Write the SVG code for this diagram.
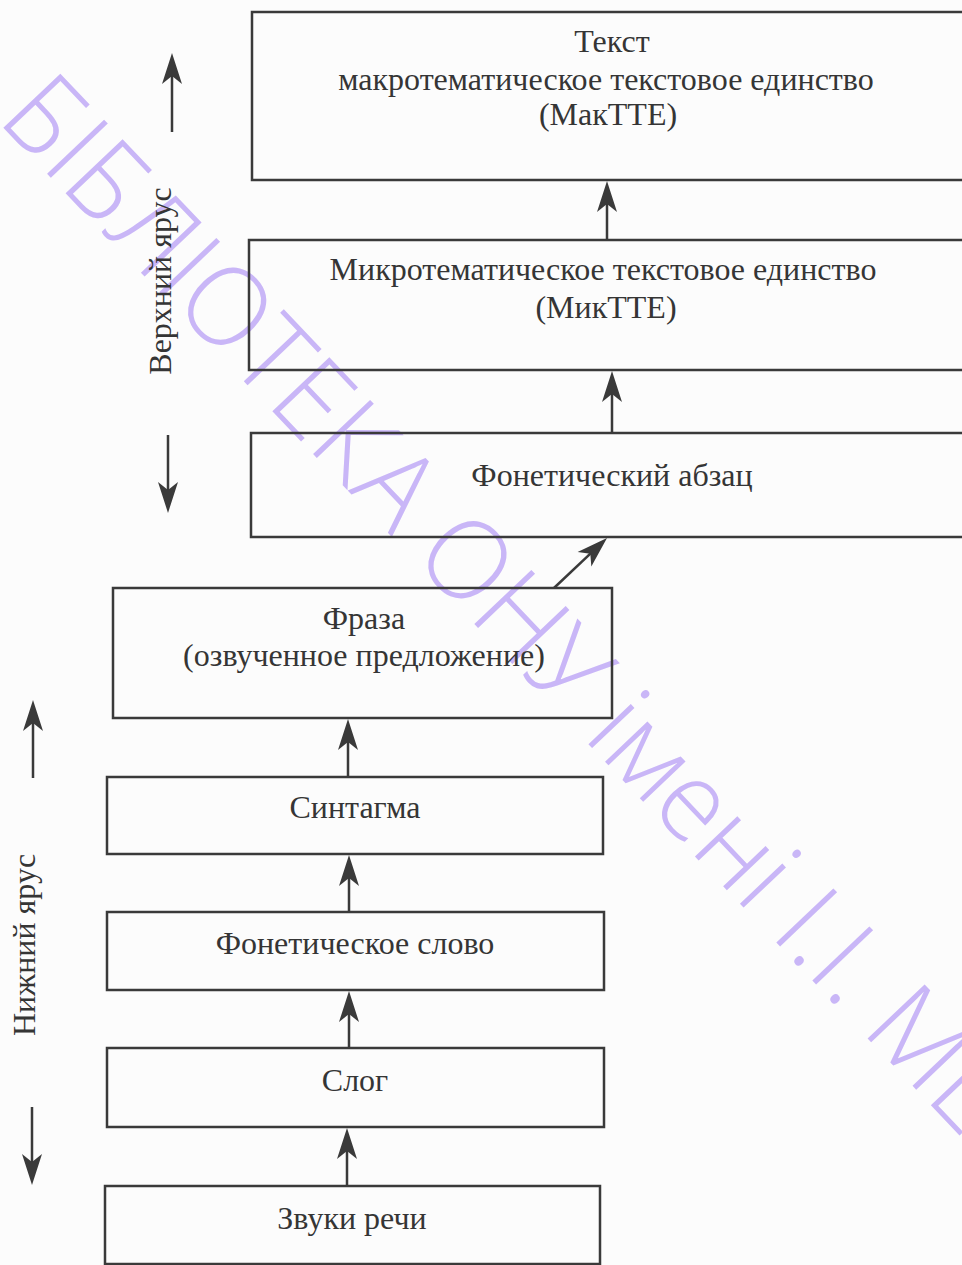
<svg xmlns="http://www.w3.org/2000/svg" width="962" height="1265" viewBox="0 0 962 1265">
<defs>
<style>
.box{fill:none;stroke:#3a3a3a;stroke-width:2.5}
.lbl{font-family:"Liberation Serif","Times New Roman",serif;font-size:32px;fill:#353535;text-anchor:middle}
.conn{stroke:#3a3a3a;stroke-width:2.5;fill:none;marker-end:url(#ah)}
.wm{font-family:"Open Sans","Noto Sans",sans-serif;font-weight:300;font-size:110px;fill:#c9b6f7}
</style>
<marker id="ah" markerUnits="userSpaceOnUse" markerWidth="34" markerHeight="24" viewBox="-22 -12 34 24" refX="0" refY="0" orient="auto">
<path d="M12,0 L-19,-10 L-11,0 L-19,10 Z" fill="#3a3a3a"/>
</marker>
</defs>
<rect x="0" y="0" width="962" height="1265" fill="#fcfcfc"/>
<g id="watermark">
<text class="wm" transform="translate(-4,120) rotate(46.5) scale(0.97,1)">БІБЛІОТЕКА ОНУ імені І.І. МЕЧНИКОВА</text>
</g>
<g id="connectors">
<line class="conn" x1="607" y1="240" x2="607" y2="193"/>
<line class="conn" x1="612" y1="433" x2="612" y2="383"/>
<line class="conn" x1="554" y1="588" x2="598.3" y2="546.2"/>
<line class="conn" x1="348" y1="777" x2="348" y2="731"/>
<line class="conn" x1="349" y1="912" x2="349" y2="867"/>
<line class="conn" x1="349" y1="1048" x2="349" y2="1003"/>
<line class="conn" x1="347" y1="1186" x2="347" y2="1140"/>
</g>
<g id="tier-arrows">
<line class="conn" x1="172" y1="132" x2="172" y2="65"/>
<line class="conn" x1="168" y1="435" x2="168" y2="501"/>
<line class="conn" x1="33" y1="778" x2="33" y2="712"/>
<line class="conn" x1="32" y1="1107" x2="32" y2="1173"/>
</g>
<g id="tier-upper"><text class="lbl" transform="translate(171,281) rotate(-90)">Верхний ярус</text></g>
<g id="tier-lower"><text class="lbl" transform="translate(35,945) rotate(-90)">Нижний ярус</text></g>
<g id="node-text">
<rect class="box" x="252" y="12" width="728" height="168"/>
<text class="lbl" x="612" y="52">Текст</text>
<text class="lbl" x="606" y="90">макротематическое текстовое единство</text>
<text class="lbl" x="608" y="125">(МакТТЕ)</text>
</g>
<g id="node-mikte">
<rect class="box" x="249" y="240" width="731" height="130"/>
<text class="lbl" x="603" y="280">Микротематическое текстовое единство</text>
<text class="lbl" x="606" y="318">(МикТТЕ)</text>
</g>
<g id="node-abzac">
<rect class="box" x="251" y="433" width="729" height="104"/>
<text class="lbl" x="612" y="486">Фонетический абзац</text>
</g>
<g id="node-fraza">
<rect class="box" x="113" y="588" width="499" height="130"/>
<text class="lbl" x="364" y="629">Фраза</text>
<text class="lbl" x="364" y="666">(озвученное предложение)</text>
</g>
<g id="node-sintagma">
<rect class="box" x="107" y="777" width="496" height="77"/>
<text class="lbl" x="355" y="818">Синтагма</text>
</g>
<g id="node-slovo">
<rect class="box" x="107" y="912" width="497" height="78"/>
<text class="lbl" x="355" y="954">Фонетическое слово</text>
</g>
<g id="node-slog">
<rect class="box" x="107" y="1048" width="497" height="79"/>
<text class="lbl" x="355" y="1091">Слог</text>
</g>
<g id="node-zvuki">
<rect class="box" x="105" y="1186" width="495" height="78"/>
<text class="lbl" x="352" y="1229">Звуки речи</text>
</g>
</svg>
